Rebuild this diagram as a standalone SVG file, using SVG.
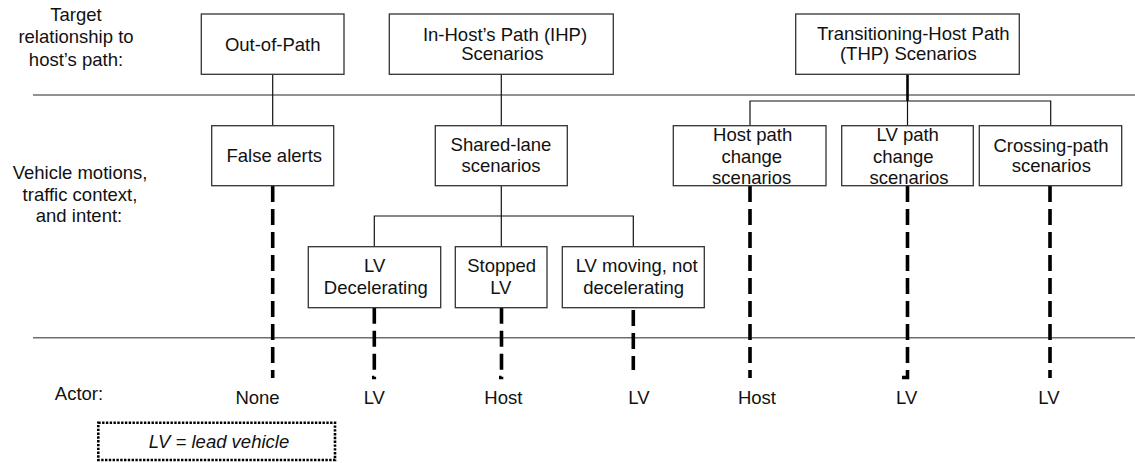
<svg xmlns="http://www.w3.org/2000/svg" width="1135" height="463" viewBox="0 0 1135 463">
<style>
text{font-family:"Liberation Sans",Arial,sans-serif;font-size:18.5px;fill:#111;text-anchor:middle}
.box{fill:#fff;stroke:#333;stroke-width:1.3}
.sep{stroke:#6e6e6e;stroke-width:1.6;fill:none}
.con{stroke:#111;stroke-width:1.2;fill:none}
.thick{stroke:#000;stroke-width:2.6;fill:none}
.dash{stroke:#000;stroke-width:3.6;fill:none;stroke-dasharray:16 7}
.legend{fill:#fff;stroke:#000;stroke-width:2.6;stroke-dasharray:2.4 1.4}
</style>
<rect width="1135" height="463" fill="#fff"/>
<g id="labels">
<text x="76" y="20.5">Target</text>
<text x="76" y="43">relationship to</text>
<text x="76" y="65.5">host’s path:</text>
<text x="80" y="179">Vehicle motions,</text>
<text x="80" y="200.5">traffic context,</text>
<text x="79" y="221.5">and intent:</text>
<text x="79" y="400">Actor:</text>
</g>
<g id="separators">
<line class="sep" x1="33" y1="95" x2="1135" y2="95"/>
<line class="sep" x1="33" y1="337.7" x2="1135" y2="337.7"/>
</g>
<g id="connectors">
<line class="con" x1="272.7" y1="74" x2="272.7" y2="126"/>
<line class="con" x1="501.3" y1="74" x2="501.3" y2="126"/>
<line class="thick" x1="907.5" y1="74" x2="907.5" y2="101"/>
<polyline class="con" points="750,126 750,101 1050.7,101 1050.7,126"/>
<line class="con" x1="907.5" y1="101" x2="907.5" y2="126"/>
<line class="con" x1="501.3" y1="186" x2="501.3" y2="246.7"/>
<polyline class="con" points="374.3,246.7 374.3,216 633.3,216 633.3,246.7"/>
<path class="dash" d="M272.7,186 V378"/>
<path class="dash" d="M374.3,307.7 V377.5 H372"/>
<path class="dash" d="M501.5,307.7 V377.5 H499"/>
<path class="dash" d="M633.3,310 V370"/>
<path class="dash" d="M750,186 V378"/>
<path class="dash" d="M907.5,186 V377.5 H902"/>
<path class="dash" d="M1050,186 V378"/>
</g>
<g id="out-of-path">
<rect class="box" x="201.3" y="14" width="142.7" height="60.3"/>
<text x="272.7" y="50.5">Out-of-Path</text>
</g>
<g id="ihp">
<rect class="box" x="389.3" y="14" width="224" height="60.3"/>
<text x="505" y="40.8">In-Host’s Path (IHP)</text>
<text x="502.3" y="59.8">Scenarios</text>
</g>
<g id="thp">
<rect class="box" x="795.7" y="14" width="223.6" height="60.3"/>
<text x="913.3" y="39.8">Transitioning-Host Path</text>
<text x="908.3" y="59.8">(THP) Scenarios</text>
</g>
<g id="false-alerts">
<rect class="box" x="211.7" y="125.7" width="122" height="60"/>
<text x="274.3" y="162">False alerts</text>
</g>
<g id="shared-lane">
<rect class="box" x="435.3" y="125.7" width="132" height="60"/>
<text x="501" y="150.5">Shared-lane</text>
<text x="501" y="171.5">scenarios</text>
</g>
<g id="host-path-change">
<rect class="box" x="673.3" y="125.7" width="152.7" height="60"/>
<text x="752.7" y="140.8">Host path</text>
<text x="751.8" y="163.2">change</text>
<text x="751.7" y="184.2">scenarios</text>
</g>
<g id="lv-path-change">
<rect class="box" x="841.7" y="125.7" width="131.6" height="60"/>
<text x="907.7" y="140.8">LV path</text>
<text x="903.3" y="163.2">change</text>
<text x="909" y="184.2">scenarios</text>
</g>
<g id="crossing-path">
<rect class="box" x="979.3" y="125.7" width="142.4" height="60"/>
<text x="1051" y="151.5">Crossing-path</text>
<text x="1051.3" y="171.5">scenarios</text>
</g>
<g id="lv-decelerating">
<rect class="box" x="308.3" y="246.7" width="132.4" height="61"/>
<text x="374.7" y="272.2">LV</text>
<text x="375.8" y="293.8">Decelerating</text>
</g>
<g id="stopped-lv">
<rect class="box" x="455.3" y="246.7" width="91.7" height="61"/>
<text x="501.7" y="272.2">Stopped</text>
<text x="500.8" y="293.8">LV</text>
</g>
<g id="lv-moving">
<rect class="box" x="562.3" y="246.7" width="142" height="61"/>
<text x="636.7" y="272.2">LV moving, not</text>
<text x="633.7" y="293.8">decelerating</text>
</g>
<g id="actors">
<text x="257.5" y="404">None</text>
<text x="374.3" y="404">LV</text>
<text x="503.3" y="404">Host</text>
<text x="639" y="404">LV</text>
<text x="757" y="404">Host</text>
<text x="906.7" y="404">LV</text>
<text x="1049" y="404">LV</text>
</g>
<g id="legend">
<rect class="legend" x="98.3" y="422.7" width="236.7" height="37.3"/>
<text x="219" y="447.5" font-style="italic">LV = lead vehicle</text>
</g>
</svg>
